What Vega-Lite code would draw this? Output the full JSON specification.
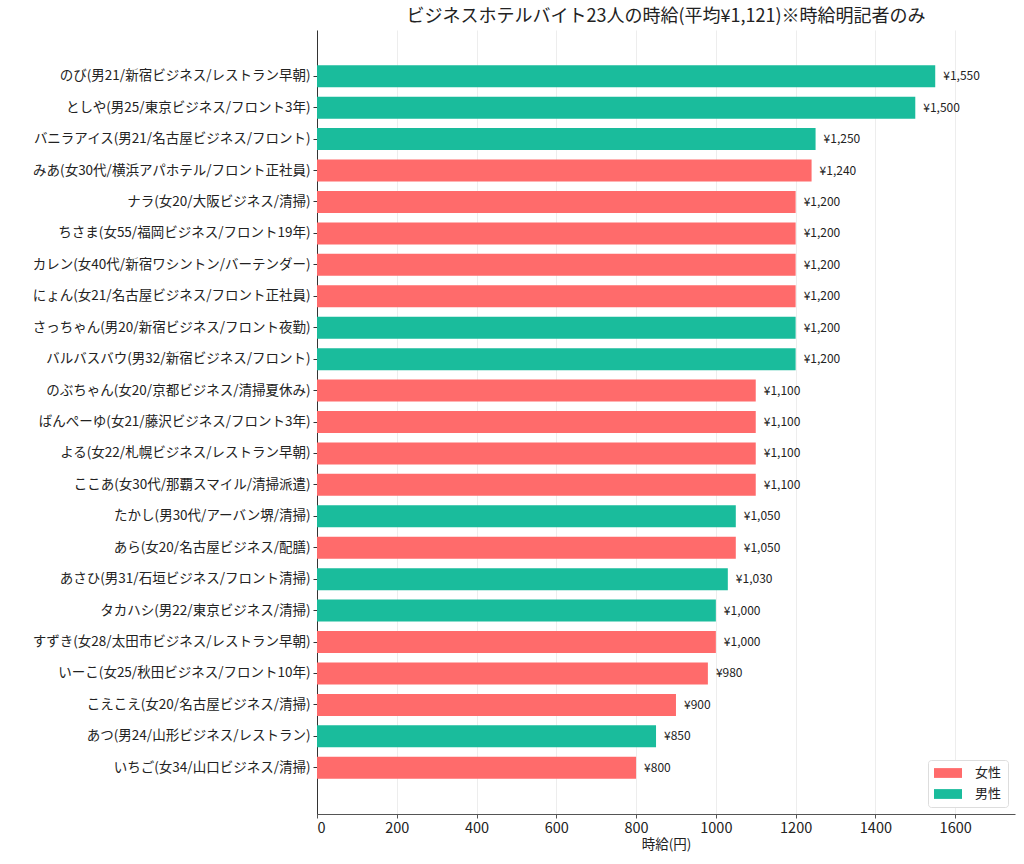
{
  "$schema": "https://vega.github.io/schema/vega-lite/v6.json",
  "width": 698,
  "height": 784,
  "autosize": {"type": "none"},
  "padding": {"left": 317, "top": 30, "right": 9, "bottom": 50},
  "background": "white",
  "title": {
    "text": "ビジネスホテルバイト23人の時給(平均¥1,121)※時給明記者のみ",
    "anchor": "middle",
    "fontSize": 18,
    "fontWeight": "normal",
    "color": "#222222",
    "offset": 4
  },
  "data": {
    "values": [
      {"name": "のび(男21/新宿ビジネス/レストラン早朝)", "wage": 1550, "gender": "男性"},
      {"name": "としや(男25/東京ビジネス/フロント3年)", "wage": 1500, "gender": "男性"},
      {"name": "バニラアイス(男21/名古屋ビジネス/フロント)", "wage": 1250, "gender": "男性"},
      {"name": "みあ(女30代/横浜アパホテル/フロント正社員)", "wage": 1240, "gender": "女性"},
      {"name": "ナラ(女20/大阪ビジネス/清掃)", "wage": 1200, "gender": "女性"},
      {"name": "ちさま(女55/福岡ビジネス/フロント19年)", "wage": 1200, "gender": "女性"},
      {"name": "カレン(女40代/新宿ワシントン/バーテンダー)", "wage": 1200, "gender": "女性"},
      {"name": "にょん(女21/名古屋ビジネス/フロント正社員)", "wage": 1200, "gender": "女性"},
      {"name": "さっちゃん(男20/新宿ビジネス/フロント夜勤)", "wage": 1200, "gender": "男性"},
      {"name": "バルバスバウ(男32/新宿ビジネス/フロント)", "wage": 1200, "gender": "男性"},
      {"name": "のぶちゃん(女20/京都ビジネス/清掃夏休み)", "wage": 1100, "gender": "女性"},
      {"name": "ばんぺーゆ(女21/藤沢ビジネス/フロント3年)", "wage": 1100, "gender": "女性"},
      {"name": "よる(女22/札幌ビジネス/レストラン早朝)", "wage": 1100, "gender": "女性"},
      {"name": "ここあ(女30代/那覇スマイル/清掃派遣)", "wage": 1100, "gender": "女性"},
      {"name": "たかし(男30代/アーバン堺/清掃)", "wage": 1050, "gender": "男性"},
      {"name": "あら(女20/名古屋ビジネス/配膳)", "wage": 1050, "gender": "女性"},
      {"name": "あさひ(男31/石垣ビジネス/フロント清掃)", "wage": 1030, "gender": "男性"},
      {"name": "タカハシ(男22/東京ビジネス/清掃)", "wage": 1000, "gender": "男性"},
      {"name": "すずき(女28/太田市ビジネス/レストラン早朝)", "wage": 1000, "gender": "女性"},
      {"name": "いーこ(女25/秋田ビジネス/フロント10年)", "wage": 980, "gender": "女性"},
      {"name": "こえこえ(女20/名古屋ビジネス/清掃)", "wage": 900, "gender": "女性"},
      {"name": "あつ(男24/山形ビジネス/レストラン)", "wage": 850, "gender": "男性"},
      {"name": "いちご(女34/山口ビジネス/清掃)", "wage": 800, "gender": "女性"}
    ]
  },
  "encoding": {
    "y": {
      "field": "name",
      "type": "nominal",
      "scale": {
        "domain": [
          "",
          "のび(男21/新宿ビジネス/レストラン早朝)",
          "としや(男25/東京ビジネス/フロント3年)",
          "バニラアイス(男21/名古屋ビジネス/フロント)",
          "みあ(女30代/横浜アパホテル/フロント正社員)",
          "ナラ(女20/大阪ビジネス/清掃)",
          "ちさま(女55/福岡ビジネス/フロント19年)",
          "カレン(女40代/新宿ワシントン/バーテンダー)",
          "にょん(女21/名古屋ビジネス/フロント正社員)",
          "さっちゃん(男20/新宿ビジネス/フロント夜勤)",
          "バルバスバウ(男32/新宿ビジネス/フロント)",
          "のぶちゃん(女20/京都ビジネス/清掃夏休み)",
          "ばんぺーゆ(女21/藤沢ビジネス/フロント3年)",
          "よる(女22/札幌ビジネス/レストラン早朝)",
          "ここあ(女30代/那覇スマイル/清掃派遣)",
          "たかし(男30代/アーバン堺/清掃)",
          "あら(女20/名古屋ビジネス/配膳)",
          "あさひ(男31/石垣ビジネス/フロント清掃)",
          "タカハシ(男22/東京ビジネス/清掃)",
          "すずき(女28/太田市ビジネス/レストラン早朝)",
          "いーこ(女25/秋田ビジネス/フロント10年)",
          "こえこえ(女20/名古屋ビジネス/清掃)",
          "あつ(男24/山形ビジネス/レストラン)",
          "いちご(女34/山口ビジネス/清掃)",
          " "
        ],
        "paddingInner": 0.3,
        "paddingOuter": 0.12
      },
      "axis": {
        "title": null,
        "values": [
          "のび(男21/新宿ビジネス/レストラン早朝)",
          "としや(男25/東京ビジネス/フロント3年)",
          "バニラアイス(男21/名古屋ビジネス/フロント)",
          "みあ(女30代/横浜アパホテル/フロント正社員)",
          "ナラ(女20/大阪ビジネス/清掃)",
          "ちさま(女55/福岡ビジネス/フロント19年)",
          "カレン(女40代/新宿ワシントン/バーテンダー)",
          "にょん(女21/名古屋ビジネス/フロント正社員)",
          "さっちゃん(男20/新宿ビジネス/フロント夜勤)",
          "バルバスバウ(男32/新宿ビジネス/フロント)",
          "のぶちゃん(女20/京都ビジネス/清掃夏休み)",
          "ばんぺーゆ(女21/藤沢ビジネス/フロント3年)",
          "よる(女22/札幌ビジネス/レストラン早朝)",
          "ここあ(女30代/那覇スマイル/清掃派遣)",
          "たかし(男30代/アーバン堺/清掃)",
          "あら(女20/名古屋ビジネス/配膳)",
          "あさひ(男31/石垣ビジネス/フロント清掃)",
          "タカハシ(男22/東京ビジネス/清掃)",
          "すずき(女28/太田市ビジネス/レストラン早朝)",
          "いーこ(女25/秋田ビジネス/フロント10年)",
          "こえこえ(女20/名古屋ビジネス/清掃)",
          "あつ(男24/山形ビジネス/レストラン)",
          "いちご(女34/山口ビジネス/清掃)"
        ],
        "labelFontSize": 13.5,
        "labelColor": "#222222",
        "labelPadding": 3,
        "labelLimit": 320,
        "tickSize": 4,
        "tickColor": "#333333",
        "domainColor": "#333333",
        "grid": false
      }
    },
    "x": {
      "field": "wage",
      "type": "quantitative",
      "scale": {"domain": [0, 1750], "nice": false},
      "axis": {
        "title": "時給(円)",
        "titleFontSize": 13.5,
        "titleFontWeight": "normal",
        "titleColor": "#222222",
        "titlePadding": 3,
        "values": [0, 200, 400, 600, 800, 1000, 1200, 1400, 1600],
        "format": "d",
        "labelFontSize": 14.5,
        "labelColor": "#222222",
        "labelPadding": 3,
        "tickSize": 4,
        "tickColor": "#555555",
        "domainColor": "#555555",
        "domainWidth": 1.2,
        "grid": true,
        "gridColor": "#e8e8e8",
        "gridWidth": 0.8
      }
    }
  },
  "layer": [
    {
      "mark": {"type": "bar"},
      "encoding": {
        "color": {
          "field": "gender",
          "type": "nominal",
          "scale": {"domain": ["女性", "男性"], "range": ["#FF6B6B", "#1ABC9C"]},
          "legend": {
            "title": null,
            "orient": "bottom-right",
            "offset": 7,
            "labelFontSize": 13,
            "labelColor": "#222222",
            "labelOffset": 27,
            "symbolType": "M-1,-0.7H3V0.7H-1Z",
            "symbolSize": 196,
            "symbolStrokeWidth": 0,
            "symbolOpacity": 1,
            "rowPadding": 7,
            "padding": 6,
            "fillColor": "white",
            "strokeColor": "#dddddd",
            "cornerRadius": 3
          }
        }
      }
    },
    {
      "mark": {"type": "text", "align": "left", "baseline": "middle", "dx": 8, "fontSize": 12, "color": "#222222"},
      "encoding": {
        "text": {"field": "wage", "type": "quantitative", "format": "$,.0f"}
      }
    }
  ],
  "config": {
    "font": "Noto Sans CJK JP",
    "view": {"stroke": null},
    "locale": {
      "number": {"decimal": ".", "thousands": ",", "grouping": [3], "currency": ["¥", ""]}
    }
  }
}
